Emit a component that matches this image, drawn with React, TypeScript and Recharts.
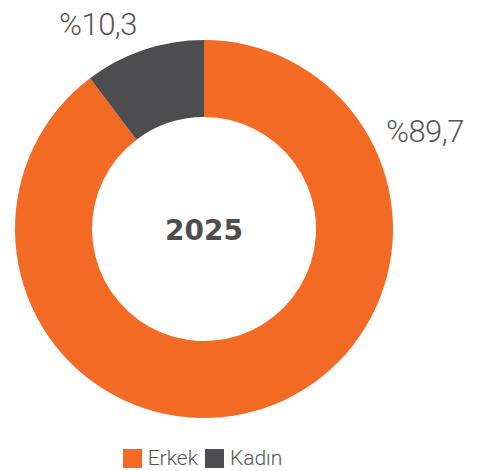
import { PieChart, Pie, Cell, Legend } from "recharts";

const categories = ["Erkek", "Kadın"];
const values = [89.7, 10.3];
const valueLabels = ["%89,7", "%10,3"];
const year = "2025";

const colors = ["#F26A24", "#4D4D4F"];
const textColor = "#555557";

const data = categories.map((name, i) => ({ name, value: values[i] }));

// label offsets from centre, per slice
const labelOffsets = [
    { dx: 182, dy: -87, anchor: "start" },
    { dx: -106, dy: -194, anchor: "middle" },
];

const renderLabel = (props: any) => {
    const { cx, cy, index } = props;
    const o = labelOffsets[index];
    return (
        <text
            x={cx + o.dx}
            y={cy + o.dy}
            textAnchor={o.anchor}
            fill={textColor}
            fontSize={31}
            fontWeight={300}
            letterSpacing={-0.5}
            fontFamily="Roboto"
        >
            {valueLabels[index]}
        </text>
    );
};

const renderLegend = () => (
    <div
        style={{
            display: "flex",
            justifyContent: "center",
            alignItems: "center",
            fontFamily: "Roboto",
            fontSize: 21,
            fontWeight: 300,
            color: textColor,
            marginLeft: -74,
        }}
    >
        {categories.map((c, i) => (
            <div key={c} style={{ display: "flex", alignItems: "center", marginRight: 7 }}>
                <span style={{ width: 19, height: 19, background: colors[i], display: "inline-block", marginRight: 6 }} />
                <span>{c}</span>
            </div>
        ))}
    </div>
);

export default function App() {
    return (
        <div style={{ position: "absolute", left: 0, top: 0, width: 486, height: 471, background: "#fff" }}>
            <PieChart width={486} height={471} margin={{ top: 0, right: 0, bottom: 0, left: 0 }}>
                <Pie
                    data={data}
                    dataKey="value"
                    nameKey="name"
                    cx={204}
                    cy={229}
                    innerRadius={112}
                    outerRadius={189}
                    startAngle={90}
                    endAngle={-270}
                    stroke="none"
                    label={renderLabel}
                    labelLine={false}
                    isAnimationActive={false}
                >
                    {data.map((d, i) => (
                        <Cell key={d.name} fill={colors[i]} />
                    ))}
                </Pie>
                <text
                    x={204}
                    y={240}
                    textAnchor="middle"
                    fill="#4D4D4F"
                    fontSize={28}
                    fontWeight={700}
                    letterSpacing={0}
                    fontFamily="DejaVu Sans"
                >
                    {year}
                </text>
                <Legend verticalAlign="bottom" content={renderLegend} wrapperStyle={{ bottom: 1 }} />
            </PieChart>
        </div>
    );
}
